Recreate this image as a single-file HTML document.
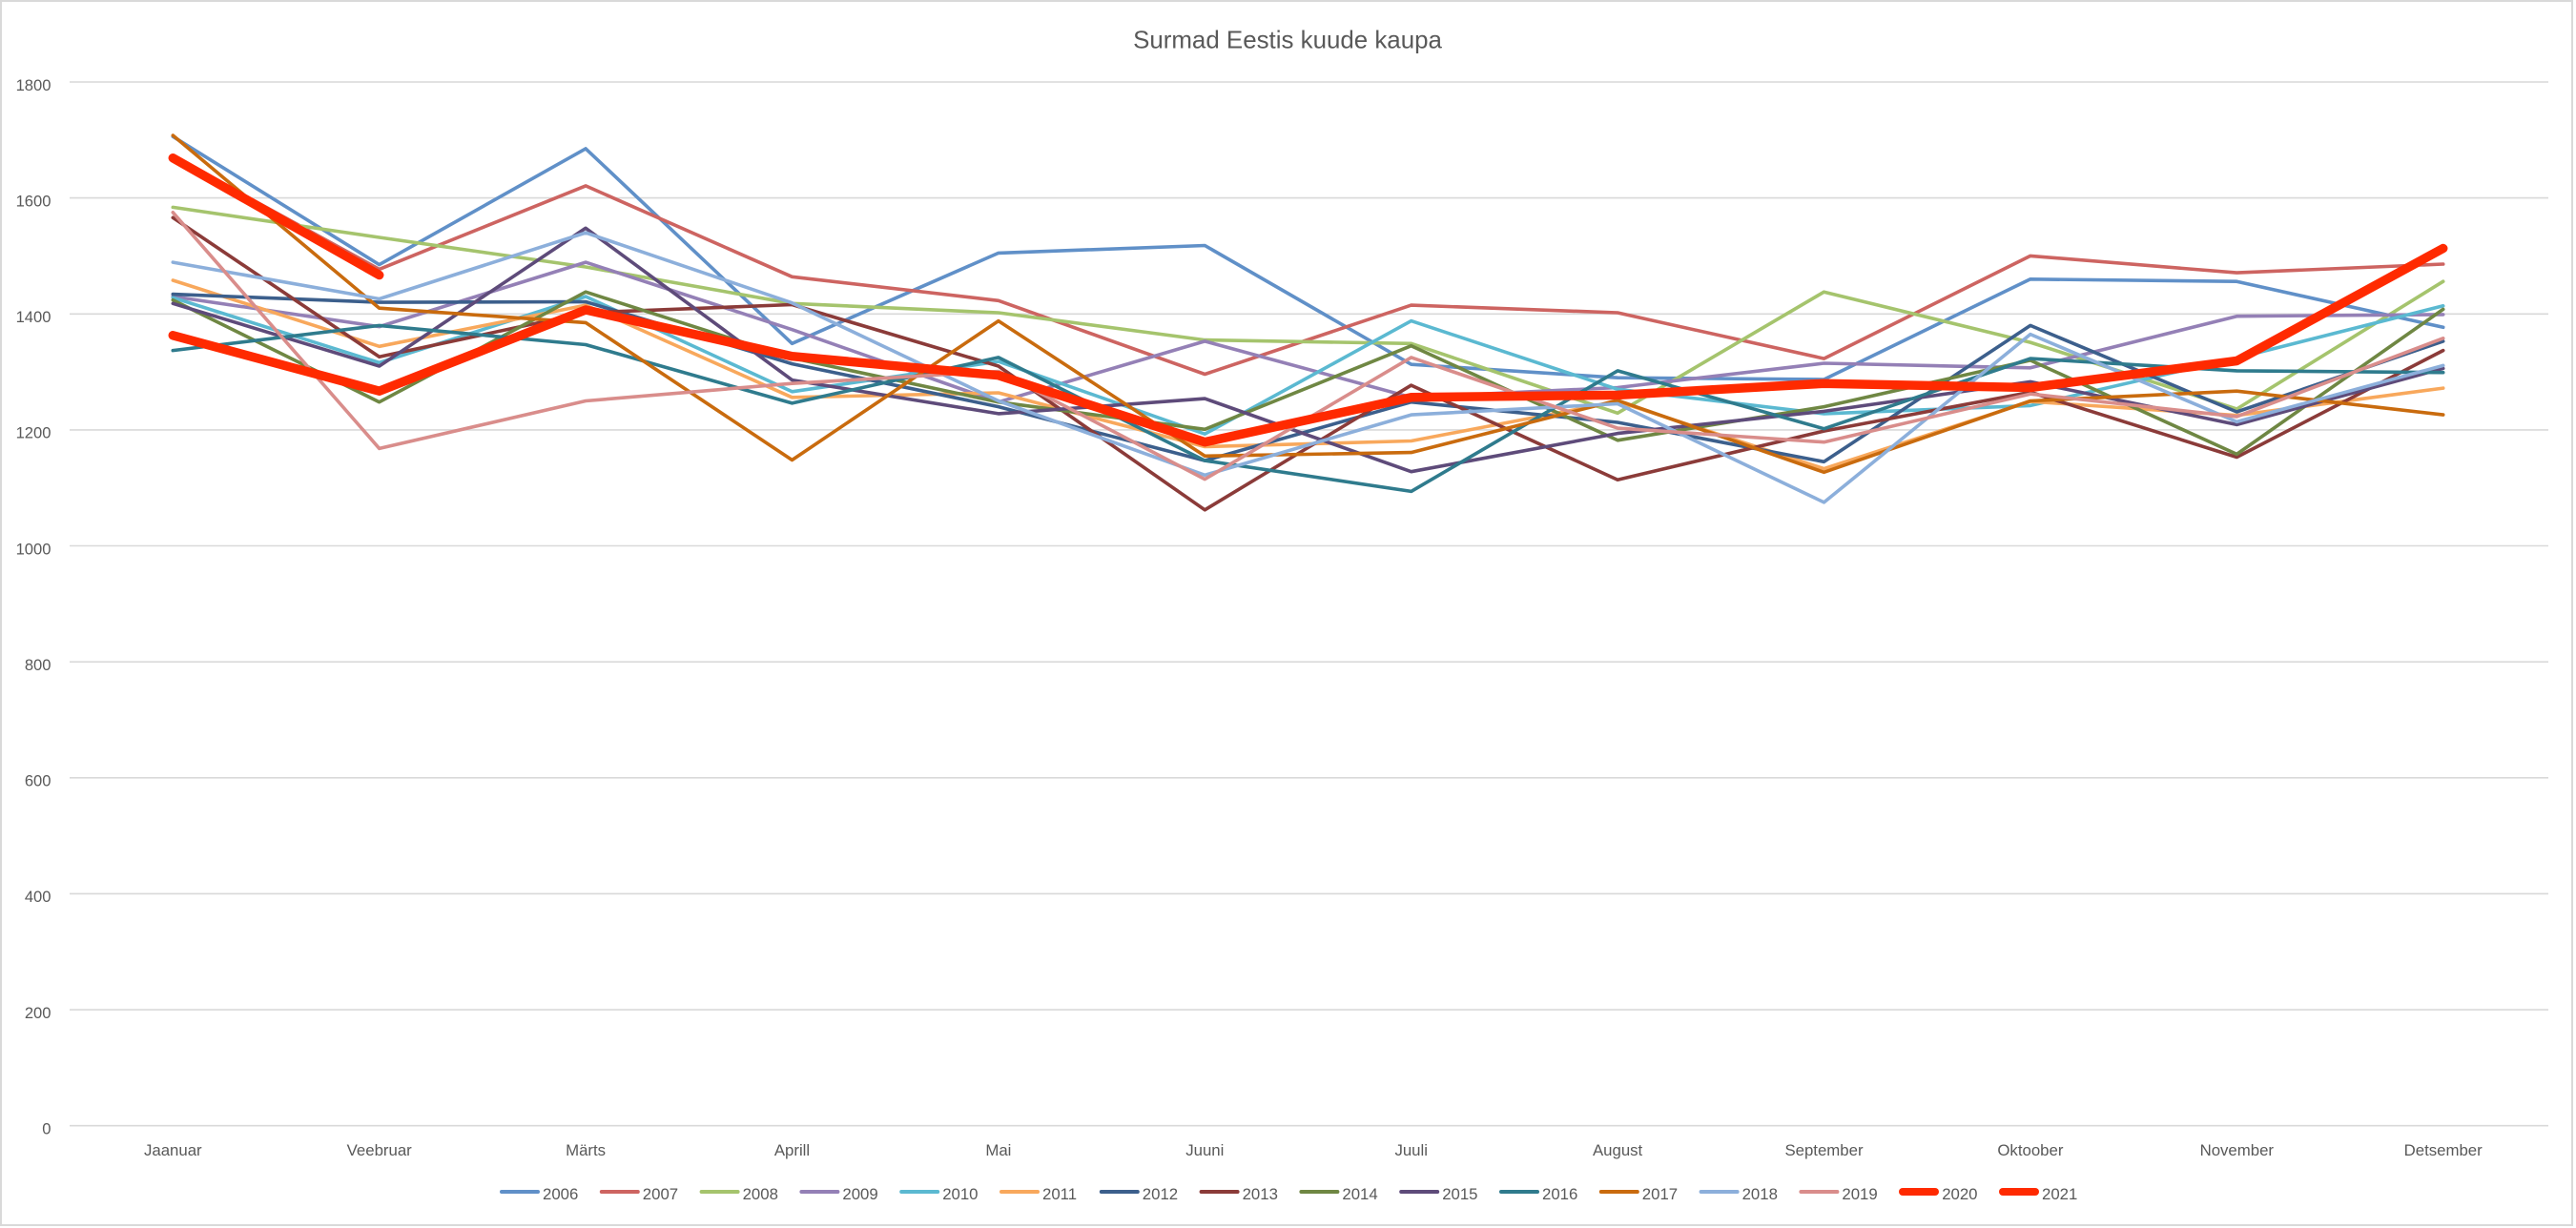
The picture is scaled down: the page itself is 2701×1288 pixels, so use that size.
<!DOCTYPE html>
<html><head><meta charset="utf-8"><style>
html,body{margin:0;padding:0;background:#fff;}
svg{display:block;}
text{font-family:"Liberation Sans",Arial,sans-serif;fill:#595959;}
</style></head><body>
<svg width="2701" height="1288" viewBox="0 0 2701 1288" xmlns="http://www.w3.org/2000/svg">
<rect x="0" y="0" width="2701" height="1288" fill="#fff"/>
<rect x="1" y="1" width="2696" height="1284" fill="none" stroke="#d9d9d9" stroke-width="2"/>
<text x="1350" y="50.5" font-size="25.9" text-anchor="middle">Surmad Eestis kuude kaupa</text>
<g stroke="#d9d9d9" stroke-width="1.6">
<line x1="73" y1="86.0" x2="2672" y2="86.0"/>
<line x1="73" y1="207.6" x2="2672" y2="207.6"/>
<line x1="73" y1="329.3" x2="2672" y2="329.3"/>
<line x1="73" y1="450.9" x2="2672" y2="450.9"/>
<line x1="73" y1="572.5" x2="2672" y2="572.5"/>
<line x1="73" y1="694.2" x2="2672" y2="694.2"/>
<line x1="73" y1="815.8" x2="2672" y2="815.8"/>
<line x1="73" y1="937.4" x2="2672" y2="937.4"/>
<line x1="73" y1="1059.1" x2="2672" y2="1059.1"/>
<line x1="73" y1="1180.7" x2="2672" y2="1180.7"/>
</g>
<g font-size="16.6" text-anchor="end">
<text x="53.5" y="94.8">1800</text>
<text x="53.5" y="216.4">1600</text>
<text x="53.5" y="338.1">1400</text>
<text x="53.5" y="459.7">1200</text>
<text x="53.5" y="581.3">1000</text>
<text x="53.5" y="703.0">800</text>
<text x="53.5" y="824.6">600</text>
<text x="53.5" y="946.2">400</text>
<text x="53.5" y="1067.9">200</text>
<text x="53.5" y="1189.5">0</text>
</g>
<g font-size="16.8" text-anchor="middle">
<text x="181.3" y="1212">Jaanuar</text>
<text x="397.7" y="1212">Veebruar</text>
<text x="614.1" y="1212">Märts</text>
<text x="830.5" y="1212">Aprill</text>
<text x="1046.9" y="1212">Mai</text>
<text x="1263.3" y="1212">Juuni</text>
<text x="1479.7" y="1212">Juuli</text>
<text x="1696.1" y="1212">August</text>
<text x="1912.5" y="1212">September</text>
<text x="2128.9" y="1212">Oktoober</text>
<text x="2345.3" y="1212">November</text>
<text x="2561.7" y="1212">Detsember</text>
</g>
<g fill="none" stroke-width="3.6" stroke-linejoin="round" stroke-linecap="round">
<polyline stroke="#6090c8" points="181.3,143.2 397.7,277.6 614.1,155.9 830.5,360.3 1046.9,265.4 1263.3,257.5 1479.7,382.2 1696.1,396.2 1912.5,398.0 2128.9,292.8 2345.3,295.2 2561.7,343.3"/>
<polyline stroke="#cd6461" points="181.3,163.8 397.7,282.4 614.1,194.9 830.5,290.3 1046.9,315.3 1263.3,392.5 1479.7,320.1 1696.1,328.0 1912.5,376.1 2128.9,268.4 2345.3,286.1 2561.7,277.0"/>
<polyline stroke="#a5c46d" points="181.3,217.4 397.7,249.0 614.1,280.0 830.5,318.3 1046.9,328.0 1263.3,356.6 1479.7,360.3 1696.1,433.3 1912.5,306.2 2128.9,359.1 2345.3,429.0 2561.7,295.2"/>
<polyline stroke="#9480b6" points="181.3,311.0 397.7,342.6 614.1,275.1 830.5,345.7 1046.9,421.7 1263.3,357.9 1479.7,416.8 1696.1,406.5 1912.5,381.0 2128.9,385.8 2345.3,331.7 2561.7,329.9"/>
<polyline stroke="#5bb9d1" points="181.3,312.2 397.7,380.4 614.1,311.0 830.5,410.8 1046.9,379.1 1263.3,455.2 1479.7,336.6 1696.1,408.3 1912.5,433.9 2128.9,425.4 2345.3,375.5 2561.7,320.8"/>
<polyline stroke="#f8a85c" points="181.3,294.0 397.7,363.3 614.1,320.1 830.5,416.8 1046.9,412.0 1263.3,468.5 1479.7,462.5 1696.1,421.1 1912.5,491.6 2128.9,421.1 2345.3,435.7 2561.7,407.1"/>
<polyline stroke="#3c5f8c" points="181.3,308.6 397.7,317.1 614.1,316.5 830.5,381.6 1046.9,426.6 1263.3,483.1 1479.7,421.7 1696.1,443.0 1912.5,484.3 2128.9,341.4 2345.3,432.0 2561.7,357.9"/>
<polyline stroke="#8b3b39" points="181.3,228.3 397.7,374.3 614.1,328.0 830.5,319.5 1046.9,384.0 1263.3,534.8 1479.7,404.1 1696.1,503.2 1912.5,452.1 2128.9,411.4 2345.3,479.5 2561.7,367.6"/>
<polyline stroke="#6f8743" points="181.3,314.7 397.7,421.7 614.1,306.2 830.5,375.5 1046.9,421.7 1263.3,450.3 1479.7,362.7 1696.1,461.8 1912.5,426.6 2128.9,377.9 2345.3,476.4 2561.7,324.4"/>
<polyline stroke="#5e4b7a" points="181.3,318.3 397.7,384.0 614.1,239.3 830.5,398.6 1046.9,433.9 1263.3,418.1 1479.7,494.7 1696.1,454.6 1912.5,431.4 2128.9,400.4 2345.3,445.4 2561.7,386.4"/>
<polyline stroke="#2f7b8d" points="181.3,367.6 397.7,341.4 614.1,361.5 830.5,422.9 1046.9,374.9 1263.3,483.1 1479.7,515.4 1696.1,388.9 1912.5,449.7 2128.9,376.1 2345.3,388.9 2561.7,390.7"/>
<polyline stroke="#c96b0e" points="181.3,142.0 397.7,323.2 614.1,338.4 830.5,482.5 1046.9,336.6 1263.3,478.3 1479.7,474.6 1696.1,419.9 1912.5,495.3 2128.9,420.5 2345.3,410.2 2561.7,435.1"/>
<polyline stroke="#8cafdb" points="181.3,275.1 397.7,313.5 614.1,244.1 830.5,317.7 1046.9,420.5 1263.3,498.3 1479.7,435.1 1696.1,423.5 1912.5,526.9 2128.9,350.6 2345.3,442.4 2561.7,383.4"/>
<polyline stroke="#d98d8b" points="181.3,222.8 397.7,470.4 614.1,420.5 830.5,402.2 1046.9,389.5 1263.3,502.6 1479.7,374.9 1696.1,449.1 1912.5,463.7 2128.9,413.2 2345.3,436.9 2561.7,354.8"/>
<polyline stroke="#ff2a00" stroke-width="9.5" points="181.3,351.8 397.7,410.2 614.1,325.0 830.5,373.7 1046.9,393.7 1263.3,463.7 1479.7,416.8 1696.1,414.4 1912.5,402.2 2128.9,406.5 2345.3,378.5 2561.7,260.5"/>
<polyline stroke="#ff2a00" stroke-width="9.5" points="181.3,165.7 397.7,288.5"/>
</g>
<g stroke-linecap="round" stroke-width="4">
<line x1="526" y1="1250" x2="564" y2="1250" stroke="#6090c8"/>
<line x1="630.8" y1="1250" x2="668.8" y2="1250" stroke="#cd6461"/>
<line x1="735.6" y1="1250" x2="773.6" y2="1250" stroke="#a5c46d"/>
<line x1="840.4" y1="1250" x2="878.4" y2="1250" stroke="#9480b6"/>
<line x1="945.2" y1="1250" x2="983.2" y2="1250" stroke="#5bb9d1"/>
<line x1="1050" y1="1250" x2="1088" y2="1250" stroke="#f8a85c"/>
<line x1="1154.8" y1="1250" x2="1192.8" y2="1250" stroke="#3c5f8c"/>
<line x1="1259.6" y1="1250" x2="1297.6" y2="1250" stroke="#8b3b39"/>
<line x1="1364.4" y1="1250" x2="1402.4" y2="1250" stroke="#6f8743"/>
<line x1="1469.2" y1="1250" x2="1507.2" y2="1250" stroke="#5e4b7a"/>
<line x1="1574" y1="1250" x2="1612" y2="1250" stroke="#2f7b8d"/>
<line x1="1678.8" y1="1250" x2="1716.8" y2="1250" stroke="#c96b0e"/>
<line x1="1783.6" y1="1250" x2="1821.6" y2="1250" stroke="#8cafdb"/>
<line x1="1888.4" y1="1250" x2="1926.4" y2="1250" stroke="#d98d8b"/>
<line x1="1995" y1="1250" x2="2029" y2="1250" stroke="#ff2a00" stroke-width="8"/>
<line x1="2100" y1="1250" x2="2134" y2="1250" stroke="#ff2a00" stroke-width="8"/>
</g>
<g font-size="16.8">
<text x="569" y="1258">2006</text>
<text x="673.8" y="1258">2007</text>
<text x="778.6" y="1258">2008</text>
<text x="883.4" y="1258">2009</text>
<text x="988.2" y="1258">2010</text>
<text x="1093" y="1258">2011</text>
<text x="1197.8" y="1258">2012</text>
<text x="1302.6" y="1258">2013</text>
<text x="1407.4" y="1258">2014</text>
<text x="1512.2" y="1258">2015</text>
<text x="1617" y="1258">2016</text>
<text x="1721.8" y="1258">2017</text>
<text x="1826.6" y="1258">2018</text>
<text x="1931.4" y="1258">2019</text>
<text x="2036.2" y="1258">2020</text>
<text x="2141" y="1258">2021</text>
</g>
</svg>
</body></html>
